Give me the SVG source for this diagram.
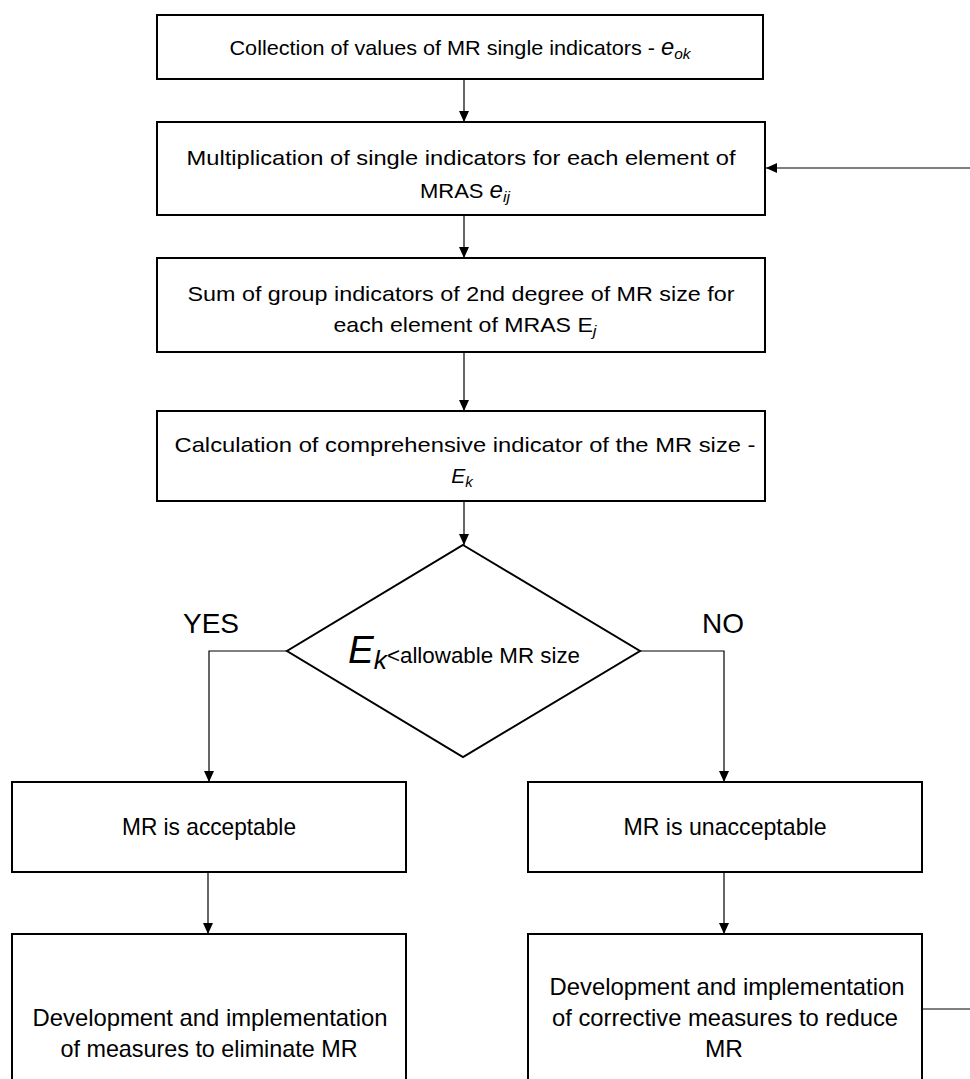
<svg xmlns="http://www.w3.org/2000/svg" width="970" height="1079" viewBox="0 0 970 1079">
<style>
.box{fill:#fff;stroke:#000;stroke-width:2}
.t{font-family:"Liberation Sans",Arial,sans-serif;font-size:21px;fill:#000;text-anchor:middle}
.big{font-size:24px}
.i{font-style:italic}
.sub{font-size:15px;font-style:italic}
.lbl{font-family:"Liberation Sans",Arial,sans-serif;font-size:28px;fill:#000}
.c{stroke:#000;stroke-width:1.2;fill:none}
</style>
<defs>
<marker id="ah" markerUnits="userSpaceOnUse" markerWidth="11" markerHeight="10" refX="11" refY="5" orient="auto">
<path d="M0,0 L11,5 L0,10 z" fill="#000"/>
</marker>
</defs>
<rect width="970" height="1079" fill="#fff"/>
<g id="connectors">
<path class="c" d="M464,79 L464,122" marker-end="url(#ah)"/>
<path class="c" d="M464,215 L464,258" marker-end="url(#ah)"/>
<path class="c" d="M464,352 L464,411" marker-end="url(#ah)"/>
<path class="c" d="M464,501 L464,545" marker-end="url(#ah)"/>
<path class="c" d="M287,651 L209,651 L209,782" marker-end="url(#ah)"/>
<path class="c" d="M640,651 L724,651 L724,782" marker-end="url(#ah)"/>
<path class="c" d="M208,872 L208,934" marker-end="url(#ah)"/>
<path class="c" d="M724,872 L724,934" marker-end="url(#ah)"/>
<path class="c" d="M922,1009 L972,1009"/>
<path class="c" d="M972,168 L766,168" marker-end="url(#ah)"/>
</g>
<g id="n1">
<rect class="box" x="157" y="15" width="606" height="64"/>
<text class="t" x="460" y="55" textLength="461" lengthAdjust="spacingAndGlyphs">Collection of values of MR single indicators - <tspan class="i" font-size="23">e</tspan><tspan class="sub" dy="4">ok</tspan></text>
</g>
<g id="n2">
<rect class="box" x="157" y="122" width="608" height="93"/>
<text class="t" x="461" y="165" textLength="549" lengthAdjust="spacingAndGlyphs">Multiplication of single indicators for each element of</text>
<text class="t" x="465" y="198" textLength="90" lengthAdjust="spacingAndGlyphs">MRAS <tspan class="i" font-size="23">e</tspan><tspan class="sub" dy="4">ij</tspan></text>
</g>
<g id="n3">
<rect class="box" x="157" y="258" width="608" height="94"/>
<text class="t" x="461" y="301" textLength="547" lengthAdjust="spacingAndGlyphs">Sum of group indicators of 2nd degree of MR size for</text>
<text class="t" x="465" y="332" textLength="263" lengthAdjust="spacingAndGlyphs">each element of MRAS E<tspan class="sub" dy="4">j</tspan></text>
</g>
<g id="n4">
<rect class="box" x="157" y="411" width="608" height="90"/>
<text class="t" x="465" y="452" textLength="581" lengthAdjust="spacingAndGlyphs">Calculation of comprehensive indicator of the MR size -</text>
<text class="t" x="462" y="483"><tspan class="i">E</tspan><tspan class="sub" dy="4">k</tspan></text>
</g>
<g id="n5">
<path class="box" d="M463,545 L640,651 L463,757 L287,651 Z"/>
<text class="t" x="348" y="663" style="text-anchor:start" textLength="232" lengthAdjust="spacingAndGlyphs"><tspan class="i" font-size="38">E</tspan><tspan class="i" font-size="26" dy="6">k</tspan><tspan dy="-6" font-size="22">&lt;allowable MR size</tspan></text>
</g>
<text class="lbl" x="183" y="633">YES</text>
<text class="lbl" x="702" y="633">NO</text>
<g id="n6">
<rect class="box" x="12" y="782" width="394" height="90"/>
<text class="t big" x="209" y="835" textLength="174" lengthAdjust="spacingAndGlyphs">MR is acceptable</text>
</g>
<g id="n7">
<rect class="box" x="528" y="782" width="394" height="90"/>
<text class="t big" x="725" y="835" textLength="203" lengthAdjust="spacingAndGlyphs">MR is unacceptable</text>
</g>
<g id="n8">
<rect class="box" x="12" y="934" width="394" height="160"/>
<text class="t big" x="210" y="1026" textLength="355" lengthAdjust="spacingAndGlyphs">Development and implementation</text>
<text class="t big" x="209" y="1057" textLength="297" lengthAdjust="spacingAndGlyphs">of measures to eliminate MR</text>
</g>
<g id="n9">
<rect class="box" x="528" y="934" width="394" height="160"/>
<text class="t big" x="727" y="995" textLength="355" lengthAdjust="spacingAndGlyphs">Development and implementation</text>
<text class="t big" x="725" y="1026" textLength="346" lengthAdjust="spacingAndGlyphs">of corrective measures to reduce</text>
<text class="t big" x="724" y="1057" textLength="38" lengthAdjust="spacingAndGlyphs">MR</text>
</g>
</svg>
